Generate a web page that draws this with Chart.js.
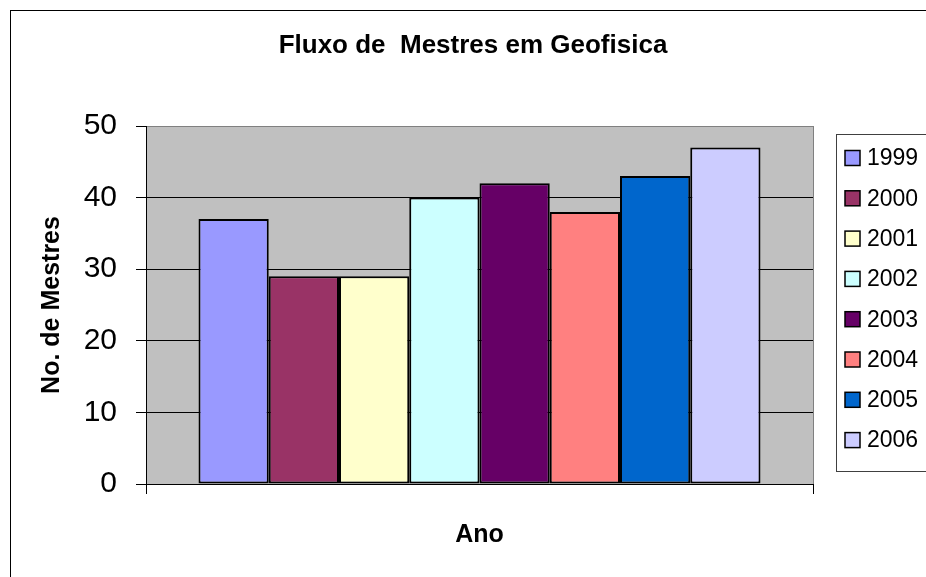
<!DOCTYPE html>
<html>
<head>
<meta charset="utf-8">
<title>Fluxo de Mestres em Geofisica</title>
<script src="https://cdn.jsdelivr.net/npm/chart.js@4/dist/chart.umd.min.js"></script>
<style>
  html, body { margin: 0; padding: 0; background: #fff; }
  canvas { display: block; }
</style>
</head>
<body>
<canvas id="grafikMestres" width="926" height="577"></canvas>
<script>
// data
const anos = ['1999', '2000', '2001', '2002', '2003', '2004', '2005', '2006'];
const mestres = [37, 29, 29, 40, 42, 38, 43, 47];
const warna = ['#9999FF', '#993366', '#FFFFCC', '#CCFFFF', '#660066', '#FF8080', '#0066CC', '#CCCCFF'];
const yTicks = [0, 10, 20, 30, 40, 50];

const fontFamily = "Arial, 'Liberation Sans', sans-serif";

//START plugin latar, judul dan legenda
const excelLook = {
    id: 'excelLook',
    beforeDraw(chart) {
        const { ctx, chartArea } = chart;
        ctx.save();
        // bingkai luar
        ctx.strokeStyle = '#000';
        ctx.lineWidth = 1;
        ctx.strokeRect(10.5, 10.5, 940, 600);
        // area plot abu-abu
        ctx.fillStyle = '#C0C0C0';
        ctx.fillRect(chartArea.left, chartArea.top, chartArea.right - chartArea.left, chartArea.bottom - chartArea.top);
        // garis kanan area plot
        ctx.strokeStyle = '#808080';
        ctx.beginPath();
        ctx.moveTo(chartArea.right + 0.5, chartArea.top);
        ctx.lineTo(chartArea.right + 0.5, chartArea.bottom);
        ctx.stroke();
        ctx.restore();
    },
    afterDraw(chart) {
        const { ctx } = chart;
        ctx.save();
        // judul
        ctx.fillStyle = '#000';
        ctx.font = 'bold 26px ' + fontFamily;
        ctx.textAlign = 'center';
        ctx.textBaseline = 'middle';
        ctx.fillText('Fluxo de  Mestres em Geofisica', 473, 46);

        // legenda
        ctx.strokeStyle = '#404040';
        ctx.lineWidth = 1;
        ctx.strokeRect(836.5, 134.5, 120, 337);
        ctx.font = '23px ' + fontFamily;
        ctx.textAlign = 'left';
        chart.data.datasets.forEach(function (ds, i) {
            const y = 158 + i * 40.3;
            ctx.fillStyle = ds.backgroundColor;
            ctx.fillRect(845, y - 7.5, 15, 15);
            ctx.strokeStyle = '#000';
            ctx.lineWidth = 1.5;
            ctx.strokeRect(845, y - 7.5, 15, 15);
            ctx.fillStyle = '#000';
            ctx.fillText(ds.label, 867, y + 1);
        });
        ctx.restore();
    }
};
//END plugin

const datasets = anos.map(function (ano, i) {
    return {
        label: ano,
        data: [mestres[i]],
        backgroundColor: warna[i],
        borderColor: '#000',
        borderWidth: 2,
        borderSkipped: false,
        barPercentage: 1,
        categoryPercentage: 0.8426,
    };
});

const ctx = document.getElementById('grafikMestres').getContext('2d');
new Chart(ctx, {
    type: 'bar',
    data: {
        labels: [''],
        datasets: datasets,
    },
    options: {
        responsive: false,
        animation: false,
        layout: {
            padding: { top: 126, right: 113, bottom: 0, left: 0 },
        },
        plugins: {
            legend: { display: false },
            title: { display: false },
            tooltip: { enabled: false },
        },
        scales: {
            x: {
                grid: {
                    offset: true,
                    drawOnChartArea: false,
                    tickLength: 10,
                    tickColor: '#000',
                },
                border: { color: '#000', width: 1 },
                ticks: { display: false },
                title: {
                    display: true,
                    text: 'Ano',
                    color: '#000',
                    font: { family: fontFamily, size: 25, weight: 'bold' },
                    padding: { top: 0, bottom: 27 },
                },
                afterFit: function (scale) { scale.height = 93; },
            },
            y: {
                min: 0,
                max: 50,
                afterBuildTicks: function (scale) {
                    scale.ticks = yTicks.map(function (v) { return { value: v }; });
                },
                grid: {
                    color: function (c) { return c.tick && c.tick.value === 50 ? '#808080' : '#000'; },
                    lineWidth: 1,
                    tickLength: 10,
                    tickColor: '#000',
                },
                border: { color: '#000', width: 1 },
                ticks: {
                    color: '#000',
                    padding: 19,
                    font: { family: fontFamily, size: 30 },
                },
                title: {
                    display: true,
                    text: 'No. de Mestres',
                    color: '#000',
                    font: { family: fontFamily, size: 25, weight: 'bold' },
                    padding: { top: 37, bottom: 0 },
                },
                afterFit: function (scale) { scale.width = 146; },
            },
        },
    },
    plugins: [excelLook],
});
</script>
</body>
</html>
